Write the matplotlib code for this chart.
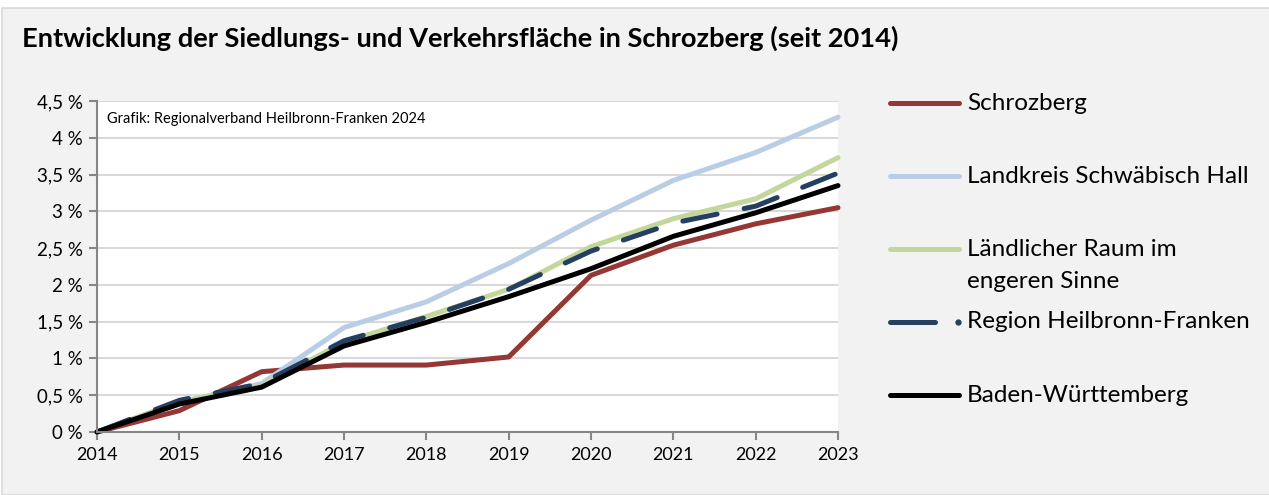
import matplotlib
matplotlib.use("Agg")
import matplotlib.pyplot as plt
from matplotlib.lines import Line2D
from matplotlib.patches import Rectangle
from matplotlib.ticker import FuncFormatter

plt.rcParams['font.family'] = ['Lato', 'DejaVu Sans']

years = [2014, 2015, 2016, 2017, 2018, 2019, 2020, 2021, 2022, 2023]

# Zuwachs der Siedlungs- und Verkehrsfläche seit 2014 in %
schrozberg = [0, 0.29, 0.82, 0.91, 0.91, 1.02, 2.13, 2.54, 2.83, 3.05]
schwaebisch_hall = [0, 0.40, 0.66, 1.42, 1.77, 2.29, 2.88, 3.42, 3.80, 4.28]
laendlicher_raum = [0, 0.41, 0.63, 1.22, 1.57, 1.94, 2.52, 2.90, 3.17, 3.73]
heilbronn_franken = [0, 0.43, 0.66, 1.24, 1.56, 1.94, 2.46, 2.84, 3.07, 3.52]
baden_wuerttemberg = [0, 0.38, 0.61, 1.17, 1.49, 1.84, 2.22, 2.66, 2.98, 3.35]

series = [
    ("Schrozberg", schrozberg, "#953735", "-"),
    ("Landkreis Schwäbisch Hall", schwaebisch_hall, "#B9CDE5", "-"),
    ("Ländlicher Raum im\nengeren Sinne", laendlicher_raum, "#C3D69B", "-"),
    ("Region Heilbronn-Franken", heilbronn_franken, "#243F60", (0, (7, 5.5))),
    ("Baden-Württemberg", baden_wuerttemberg, "#000000", "-"),
]

W, H = 1269, 495
fig = plt.figure(figsize=(W / 100, H / 100), dpi=100, facecolor="white")
fig.add_artist(Rectangle((2 / W, 0), 1, 1 - 8 / H, transform=fig.transFigure,
                         facecolor="#F2F2F2", edgecolor="#D9D9D9", lw=1.2,
                         zorder=-10))

ax = fig.add_axes([97 / W, 1 - 432 / H, (838 - 97) / W, (432 - 101) / H])
ax.set_facecolor("white")

for name, vals, color, ls in series:
    ax.plot(years, vals, color=color, lw=3.6, linestyle=ls, clip_on=False,
            solid_capstyle="round", dash_capstyle="round", solid_joinstyle="round")

ax.set_xlim(2014, 2023)
ax.set_ylim(0, 4.5)
ax.set_xticks(years)
ax.set_yticks([i * 0.5 for i in range(10)])
ax.yaxis.set_major_formatter(FuncFormatter(
    lambda v, p: f"{v:g} %".replace(".", ",")))
ax.grid(axis="y", color="#D9D9D9", lw=1.5)
ax.set_axisbelow(True)
for s in ["top", "right"]:
    ax.spines[s].set_visible(False)
for s in ["left", "bottom"]:
    ax.spines[s].set_color("#868686")
    ax.spines[s].set_linewidth(1.5)
ax.tick_params(axis="both", colors="#868686", width=1.5, length=6,
               labelsize=13, labelcolor="black")
ax.tick_params(axis="y", labelsize=13.5, pad=4)
ax.tick_params(axis="x", pad=5)

ax.text(0.013, 0.945, "Grafik: Regionalverband Heilbronn-Franken 2024",
        transform=ax.transAxes, fontsize=10.5, va="center", ha="left")

fig.text(22 / W, 1 - 38 / H,
         "Entwicklung der Siedlungs- und Verkehrsfläche in Schrozberg (seit 2014)",
         fontsize=19.6, fontweight="bold", va="center", ha="left")

# Legende rechts neben dem Diagramm
leg_y = [103, 176, 249, 322, 395]
for (name, vals, color, ls), y in zip(series, leg_y):
    yf = 1 - y / H
    if isinstance(ls, tuple):
        fig.add_artist(Line2D([890 / W, 935 / W], [yf, yf], color=color, lw=3.6,
                              solid_capstyle="round", transform=fig.transFigure))
        fig.add_artist(Line2D([958 / W], [yf], marker="o", ms=3.5, color=color,
                              transform=fig.transFigure))
    else:
        fig.add_artist(Line2D([890 / W, 959 / W], [yf, yf], color=color, lw=3.6,
                              solid_capstyle="round", transform=fig.transFigure))
    for i, line in enumerate(name.split("\n")):
        fig.text(967 / W, 1 - (y + 32 * i) / H, line, fontsize=17.5,
                 va="center", ha="left")

fig.savefig("out.png", dpi=100, facecolor=fig.get_facecolor())
